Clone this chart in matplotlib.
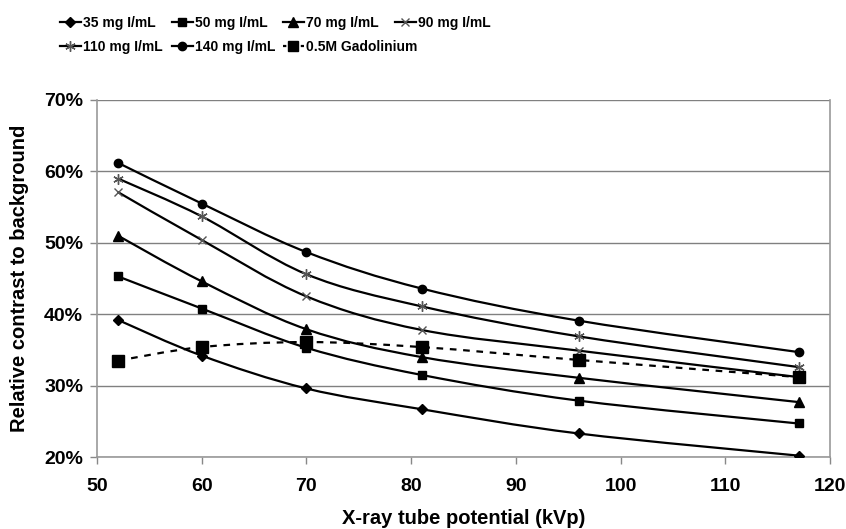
import matplotlib
matplotlib.use("Agg")
import matplotlib.pyplot as plt
from matplotlib.path import Path
from matplotlib.patches import PathPatch
from matplotlib.lines import Line2D
from matplotlib.ticker import FuncFormatter

plt.rcParams["font.family"] = ["Liberation Sans", "DejaVu Sans"]
plt.rcParams["font.weight"] = "bold"

# X-ray tube potential (kVp)
kvp = [52, 60, 70, 81, 96, 117]

# Relative contrast to background (%)
c35 = [39.2, 34.2, 29.6, 26.7, 23.3, 20.2]
c50 = [45.3, 40.8, 35.3, 31.5, 27.9, 24.7]
c70 = [51.0, 44.6, 37.9, 34.0, 31.1, 27.7]
c90 = [57.1, 50.4, 42.5, 37.8, 34.9, 31.2]
c110 = [59.0, 53.7, 45.6, 41.1, 36.9, 32.6]
c140 = [61.2, 55.5, 48.7, 43.6, 39.1, 34.7]
gado = [33.5, 35.4, 36.1, 35.4, 33.6, 31.2]

labels = ["35 mg I/mL", "50 mg I/mL", "70 mg I/mL", "90 mg I/mL",
          "110 mg I/mL", "140 mg I/mL", "0.5M Gadolinium"]


def smooth_path(x, y):
    # Excel-style smoothed line: Bezier segments through the data points
    verts = [(x[0], y[0])]
    codes = [Path.MOVETO]
    n = len(x)
    for i in range(n - 1):
        x0, y0 = (x[i - 1], y[i - 1]) if i > 0 else (x[i], y[i])
        x3, y3 = (x[i + 2], y[i + 2]) if i + 2 < n else (x[i + 1], y[i + 1])
        c1 = (x[i] + (x[i + 1] - x0) / 6.0, y[i] + (y[i + 1] - y0) / 6.0)
        c2 = (x[i + 1] - (x3 - x[i]) / 6.0, y[i + 1] - (y3 - y[i]) / 6.0)
        verts += [c1, c2, (x[i + 1], y[i + 1])]
        codes += [Path.CURVE4] * 3
    return Path(verts, codes)


fig = plt.figure(figsize=(8.46, 5.29), dpi=100)
ax = fig.add_axes([0.1147, 0.136, 0.8663, 0.675])

series = [
    (c35, dict(marker="D", ms=5)),
    (c50, dict(marker="s", ms=6)),
    (c70, dict(marker="^", ms=7)),
    (c90, dict(marker="x", ms=6, mec="#555555", mew=1.0)),
    (c110, dict(marker=(6, 2, 0), ms=7.5, mec="#555555", mew=1.0)),
    (c140, dict(marker="o", ms=6)),
    (gado, dict(marker="s", ms=8.5)),
]

handles = []
for i, (vals, mk) in enumerate(series):
    ls = (0, (3, 3)) if i == 6 else "-"
    ax.add_patch(PathPatch(smooth_path(kvp, vals), fill=False, edgecolor="black",
                           lw=1.6, ls=ls, zorder=2))
    ax.plot(kvp, vals, ls="none", color="black", zorder=3, **mk)
    hls = (0, (1.5, 2.5)) if i == 6 else "-"
    hmk = dict(mk)
    if i == 6:
        hmk["ms"] = 7
    handles.append(Line2D([], [], color="black", lw=1.6, ls=hls, **hmk))

ax.set_xlim(50, 120)
ax.set_ylim(20, 70)
ax.set_xticks(range(50, 121, 10))
ax.set_yticks(range(20, 71, 10))
ax.yaxis.set_major_formatter(FuncFormatter(lambda v, p: "%d%%" % v))
ax.tick_params(labelsize=14, color="#888888", length=5, width=1)
ax.tick_params(axis="x", pad=10)
ax.tick_params(axis="y", pad=5)
for lab in ax.get_xticklabels() + ax.get_yticklabels():
    lab.set_fontweight("bold")

ax.grid(axis="y", color="#808080", lw=1)
ax.set_axisbelow(True)
for side in ["left", "bottom", "right"]:
    ax.spines[side].set_color("#999999")
    ax.spines[side].set_linewidth(1.2)
ax.spines["top"].set_visible(False)

ax.set_xlabel("X-ray tube potential (kVp)", fontsize=14.5, fontweight="bold")
ax.set_ylabel("Relative contrast to background", fontsize=14.5, fontweight="bold")
ax.xaxis.set_label_coords(0.5, -0.145)
ax.yaxis.set_label_coords(-0.093, 0.5)

# legend: four fixed-width columns, filled row by row
W, H = 846.0, 529.0
col_x = [60, 172, 283, 395]
columns = [[0, 4], [1, 5], [2, 6], [3]]
for cx, members in zip(col_x, columns):
    cy = 35 if len(members) == 2 else 23
    leg = fig.legend([handles[m] for m in members], [labels[m] for m in members],
                     loc="center left", bbox_to_anchor=(cx / W, 1 - cy / H),
                     frameon=False, borderpad=0, borderaxespad=0,
                     handlelength=1.5, handletextpad=0.15, labelspacing=0.75,
                     prop=dict(family=["Liberation Sans Narrow", "Liberation Sans"],
                               weight="bold", size=10))

plt.savefig("out.png", dpi=100)
plt.close()
